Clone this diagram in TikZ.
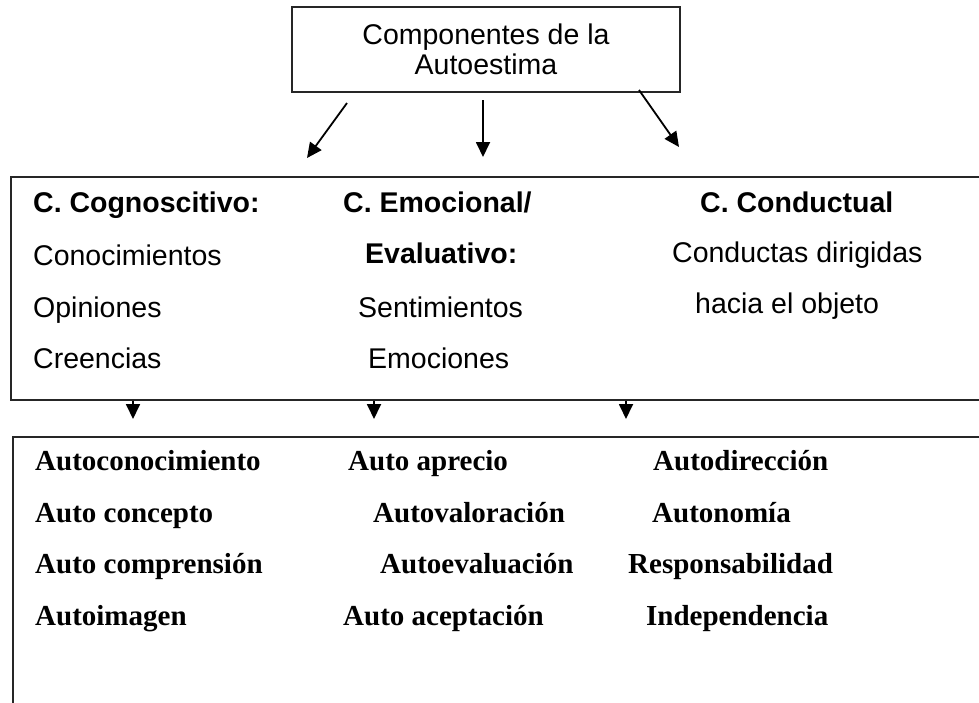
\documentclass[tikz,border=0pt]{standalone}
\usepackage{fontspec}
\setmainfont{Liberation Serif}
\setsansfont{Liberation Sans}
\usetikzlibrary{arrows.meta}
\begin{document}
\begin{tikzpicture}[x=1pt,y=-1pt,
  box/.style={draw=black!85, line width=1.6pt, inner sep=0pt},
  sf/.style={font=\sffamily\fontsize{28.5}{30}\selectfont, inner sep=0pt, anchor=base west},
  sfb/.style={sf, font=\sffamily\bfseries\fontsize{28.5}{30}\selectfont},
  rmb/.style={font=\rmfamily\bfseries\fontsize{29}{30}\selectfont, inner sep=0pt, anchor=base west},
  arr/.style={line width=1.8pt, -{Triangle[length=15pt,width=14pt]}}]
\useasboundingbox (0,0) rectangle (979,702);
\clip (0,0) rectangle (979,702);

% boxes
\node[box, minimum width=388pt, minimum height=85pt, align=center,
      font=\sffamily\fontsize{28.5}{30}\selectfont] (top) at (486,49.5) {Componentes de la\\Autoestima};
\node[box, minimum width=989pt, minimum height=223pt] (mid) at (505.5,288.5) {};
\node[box, minimum width=987pt, minimum height=283pt] (bot) at (506.5,578.5) {};

% arrows top -> mid
\coordinate (s1) at (347,103); \coordinate (e1) at (307,158);
\coordinate (s2) at (483,100); \coordinate (e2) at (483,157);
\coordinate (s3) at (639,90);  \coordinate (e3) at (679,147);
\draw[arr] (s1) -- (e1);
\draw[arr] (s2) -- (e2);
\draw[arr] (s3) -- (e3);

% arrows mid -> bot
\coordinate (f1) at (133,419);
\coordinate (f2) at (374,419);
\coordinate (f3) at (626,419);
\draw[arr] (mid.south -| f1) -- (f1);
\draw[arr] (mid.south -| f2) -- (f2);
\draw[arr] (mid.south -| f3) -- (f3);

% middle box texts
\node[sfb] (t11) at (33,212) {C. Cognoscitivo:};
\node[sf]  (t12) at (33,265) {Conocimientos};
\node[sf]  (t13) at (33,317) {Opiniones};
\node[sf]  (t14) at (33,368) {Creencias};

\node[sfb] (t21) at (343,212) {C. Emocional/};
\node[sfb] (t22) at (365,263) {Evaluativo:};
\node[sf]  (t23) at (358,317) {Sentimientos};
\node[sf]  (t24) at (368,368) {Emociones};

\node[sfb] (t31) at (700,212) {C. Conductual};
\node[sf]  (t32) at (672,262) {Conductas dirigidas};
\node[sf]  (t33) at (695,313) {hacia el objeto};

% bottom box texts
\node[rmb] (b11) at (35,470) {Autoconocimiento};
\node[rmb] (b12) at (35,522) {Auto concepto};
\node[rmb] (b13) at (35,573) {Auto comprensión};
\node[rmb] (b14) at (35,625) {Autoimagen};

\node[rmb] (b21) at (348,470) {Auto aprecio};
\node[rmb] (b22) at (373,522) {Autovaloración};
\node[rmb] (b23) at (380,573) {Autoevaluación};
\node[rmb] (b24) at (343,625) {Auto aceptación};

\node[rmb] (b31) at (653,470) {Autodirección};
\node[rmb] (b32) at (652,522) {Autonomía};
\node[rmb] (b33) at (628,573) {Responsabilidad};
\node[rmb] (b34) at (646,625) {Independencia};
\end{tikzpicture}
\end{document}
